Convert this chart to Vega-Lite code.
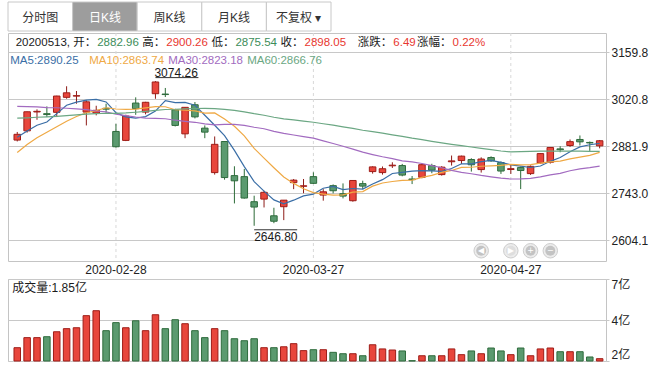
{
  "$schema": "https://vega.github.io/schema/vega-lite/v6.json",
  "padding": {"left": 0, "top": 1, "right": 0, "bottom": 0},
  "background": "white",
  "spacing": 0,
  "config": {
    "font": "Liberation Sans, Noto Sans CJK SC, sans-serif",
    "view": {"stroke": "#c4c4c4"},
    "axis": {"labelFont": "Liberation Sans, Noto Sans CJK SC, sans-serif", "labelFontSize": 12, "labelColor": "#222222", "title": null},
    "text": {"font": "Liberation Sans, Noto Sans CJK SC, sans-serif", "fontSize": 12}
  },
  "datasets": {
    "ohlc": [
      {"date":"2020-02-14","open":2900.0,"high":2924.0,"low":2896.0,"close":2917.01,"volume":2.56,"ma5":2908.43,"ma10":2863.26,"ma30":2999.79,"ma60":2964.65},
      {"date":"2020-02-17","open":2927.3,"high":2984.0,"low":2922.0,"close":2983.62,"volume":3.21,"ma5":2927.05,"ma10":2886.96,"ma30":2999.00,"ma60":2965.88},
      {"date":"2020-02-18","open":2983.1,"high":2990.8,"low":2960.0,"close":2984.97,"volume":3.21,"ma5":2943.71,"ma10":2907.13,"ma30":2998.33,"ma60":2967.44},
      {"date":"2020-02-19","open":2978.0,"high":2999.6,"low":2968.0,"close":2975.40,"volume":3.27,"ma5":2953.41,"ma10":2922.86,"ma30":2996.17,"ma60":2968.54},
      {"date":"2020-02-20","open":2982.0,"high":3031.0,"low":2968.0,"close":3030.15,"volume":3.59,"ma5":2978.23,"ma10":2939.22,"ma30":2995.51,"ma60":2970.15},
      {"date":"2020-02-21","open":3026.3,"high":3059.0,"low":3022.2,"close":3039.67,"volume":3.79,"ma5":3002.76,"ma10":2955.60,"ma30":2993.99,"ma60":2972.29},
      {"date":"2020-02-24","open":3030.0,"high":3045.0,"low":3007.4,"close":3031.23,"volume":3.85,"ma5":3012.28,"ma10":2969.67,"ma30":2992.24,"ma60":2974.42},
      {"date":"2020-02-25","open":2982.7,"high":3017.4,"low":2943.3,"close":3013.05,"volume":4.63,"ma5":3017.90,"ma10":2980.81,"ma30":2989.89,"ma60":2976.54},
      {"date":"2020-02-26","open":2979.8,"high":3001.4,"low":2973.0,"close":2987.93,"volume":4.95,"ma5":3020.41,"ma10":2986.91,"ma30":2986.00,"ma60":2977.91},
      {"date":"2020-02-27","open":2994.0,"high":3007.4,"low":2980.7,"close":2991.33,"volume":3.66,"ma5":3012.64,"ma10":2995.44,"ma30":2983.48,"ma60":2979.31},
      {"date":"2020-02-28","open":2925.5,"high":2948.0,"low":2878.0,"close":2880.30,"volume":4.18,"ma5":2980.77,"ma10":2991.77,"ma30":2976.33,"ma60":2978.93},
      {"date":"2020-03-02","open":2899.0,"high":2975.0,"low":2897.0,"close":2970.93,"volume":3.85,"ma5":2968.71,"ma10":2990.50,"ma30":2972.28,"ma60":2980.28},
      {"date":"2020-03-03","open":3009.4,"high":3026.3,"low":2974.7,"close":2992.90,"volume":4.30,"ma5":2964.68,"ma10":2991.29,"ma30":2968.19,"ma60":2982.30},
      {"date":"2020-03-04","open":2982.7,"high":3013.0,"low":2976.0,"close":3011.67,"volume":3.66,"ma5":2969.43,"ma10":2994.92,"ma30":2965.02,"ma60":2984.56},
      {"date":"2020-03-05","open":3037.0,"high":3074.26,"low":3022.0,"close":3071.68,"volume":4.69,"ma5":2985.50,"ma10":2999.07,"ma30":2964.41,"ma60":2987.68},
      {"date":"2020-03-06","open":3036.0,"high":3054.0,"low":3027.2,"close":3034.51,"volume":3.79,"ma5":3016.34,"ma10":2998.55,"ma30":2963.09,"ma60":2990.29},
      {"date":"2020-03-09","open":2989.6,"high":2992.5,"low":2940.3,"close":2943.29,"volume":4.37,"ma5":3010.81,"ma10":2989.76,"ma30":2958.68,"ma60":2991.02},
      {"date":"2020-03-10","open":2918.4,"high":2997.0,"low":2905.6,"close":2996.76,"volume":4.11,"ma5":3011.58,"ma10":2988.13,"ma30":2955.38,"ma60":2992.43},
      {"date":"2020-03-11","open":3004.4,"high":3012.4,"low":2964.0,"close":2968.52,"volume":3.66,"ma5":3002.95,"ma10":2986.19,"ma30":2952.59,"ma60":2993.33},
      {"date":"2020-03-12","open":2935.3,"high":2943.3,"low":2905.6,"close":2923.49,"volume":3.21,"ma5":2973.31,"ma10":2979.41,"ma30":2948.02,"ma60":2993.43},
      {"date":"2020-03-13","open":2803.9,"high":2910.7,"low":2798.0,"close":2887.43,"volume":3.79,"ma5":2943.90,"ma10":2980.12,"ma30":2945.05,"ma60":2992.82},
      {"date":"2020-03-16","open":2895.8,"high":2897.0,"low":2783.0,"close":2789.25,"volume":3.66,"ma5":2913.09,"ma10":2961.95,"ma30":2946.47,"ma60":2990.71},
      {"date":"2020-03-17","open":2795.0,"high":2822.6,"low":2712.8,"close":2779.64,"volume":3.14,"ma5":2869.67,"ma10":2940.62,"ma30":2946.35,"ma60":2987.58},
      {"date":"2020-03-18","open":2792.0,"high":2814.7,"low":2727.0,"close":2728.76,"volume":3.01,"ma5":2821.71,"ma10":2912.33,"ma30":2943.37,"ma60":2983.31},
      {"date":"2020-03-19","open":2717.9,"high":2735.6,"low":2646.80,"close":2702.13,"volume":3.14,"ma5":2777.44,"ma10":2875.38,"ma30":2937.89,"ma60":2977.98},
      {"date":"2020-03-20","open":2725.6,"high":2750.5,"low":2700.9,"close":2745.62,"volume":2.56,"ma5":2749.08,"ma10":2846.49,"ma30":2933.55,"ma60":2973.45},
      {"date":"2020-03-23","open":2676.3,"high":2700.0,"low":2654.4,"close":2660.17,"volume":2.56,"ma5":2723.26,"ma10":2818.18,"ma30":2925.87,"ma60":2967.50},
      {"date":"2020-03-24","open":2703.1,"high":2722.8,"low":2663.5,"close":2722.44,"volume":2.62,"ma5":2711.82,"ma10":2790.74,"ma30":2919.89,"ma60":2962.80},
      {"date":"2020-03-25","open":2774.2,"high":2785.0,"low":2755.0,"close":2781.59,"volume":2.82,"ma5":2722.39,"ma10":2772.05,"ma30":2915.05,"ma60":2959.78},
      {"date":"2020-03-26","open":2763.5,"high":2785.0,"low":2743.0,"close":2764.91,"volume":2.37,"ma5":2734.95,"ma10":2756.19,"ma30":2910.35,"ma60":2956.15},
      {"date":"2020-03-27","open":2792.0,"high":2804.8,"low":2770.5,"close":2772.20,"volume":2.43,"ma5":2740.26,"ma10":2744.67,"ma30":2905.52,"ma60":2952.65},
      {"date":"2020-03-30","open":2737.5,"high":2755.0,"low":2721.0,"close":2747.21,"volume":2.43,"ma5":2757.67,"ma10":2740.47,"ma30":2897.64,"ma60":2948.32},
      {"date":"2020-03-31","open":2765.3,"high":2769.0,"low":2742.5,"close":2750.30,"volume":2.26,"ma5":2763.24,"ma10":2737.53,"ma30":2889.82,"ma60":2944.07},
      {"date":"2020-04-01","open":2741.6,"high":2772.0,"low":2727.7,"close":2734.52,"volume":2.17,"ma5":2753.83,"ma10":2738.11,"ma30":2881.79,"ma60":2938.98},
      {"date":"2020-04-02","open":2720.8,"high":2781.0,"low":2718.0,"close":2780.64,"volume":2.17,"ma5":2756.97,"ma10":2745.96,"ma30":2873.47,"ma60":2934.49},
      {"date":"2020-04-03","open":2771.3,"high":2780.0,"low":2755.0,"close":2763.99,"volume":2.04,"ma5":2755.33,"ma10":2747.80,"ma30":2864.28,"ma60":2929.13},
      {"date":"2020-04-07","open":2806.9,"high":2822.5,"low":2800.9,"close":2820.76,"volume":2.75,"ma5":2770.04,"ma10":2763.86,"ma30":2857.26,"ma60":2924.75},
      {"date":"2020-04-08","open":2803.9,"high":2822.0,"low":2798.0,"close":2815.37,"volume":2.48,"ma5":2783.06,"ma10":2773.15,"ma30":2850.67,"ma60":2920.28},
      {"date":"2020-04-09","open":2824.0,"high":2834.4,"low":2817.6,"close":2825.90,"volume":2.41,"ma5":2801.33,"ma10":2777.58,"ma30":2845.27,"ma60":2915.64},
      {"date":"2020-04-10","open":2824.7,"high":2829.6,"low":2793.0,"close":2796.63,"volume":2.35,"ma5":2804.53,"ma10":2780.75,"ma30":2838.78,"ma60":2911.13},
      {"date":"2020-04-13","open":2785.0,"high":2793.8,"low":2770.0,"close":2783.05,"volume":1.72,"ma5":2808.34,"ma10":2781.84,"ma30":2835.54,"ma60":2905.93},
      {"date":"2020-04-14","open":2790.0,"high":2830.0,"low":2787.0,"close":2827.28,"volume":2.04,"ma5":2809.65,"ma10":2789.84,"ma30":2830.75,"ma60":2901.52},
      {"date":"2020-04-15","open":2824.7,"high":2830.0,"low":2802.0,"close":2811.17,"volume":2.04,"ma5":2808.81,"ma10":2795.93,"ma30":2824.70,"ma60":2896.44},
      {"date":"2020-04-16","open":2798.0,"high":2823.0,"low":2795.0,"close":2819.94,"volume":2.04,"ma5":2807.61,"ma10":2804.47,"ma30":2818.31,"ma60":2891.66},
      {"date":"2020-04-17","open":2836.0,"high":2854.3,"low":2824.7,"close":2838.49,"volume":2.48,"ma5":2815.99,"ma10":2810.26,"ma30":2810.53,"ma60":2887.47},
      {"date":"2020-04-20","open":2839.5,"high":2854.0,"low":2829.4,"close":2852.55,"volume":2.11,"ma5":2829.89,"ma10":2819.11,"ma30":2804.47,"ma60":2883.78},
      {"date":"2020-04-21","open":2842.5,"high":2846.3,"low":2806.9,"close":2827.01,"volume":2.35,"ma5":2829.83,"ma10":2819.74,"ma30":2800.59,"ma60":2879.64},
      {"date":"2020-04-22","open":2812.8,"high":2849.0,"low":2804.0,"close":2843.98,"volume":2.17,"ma5":2836.39,"ma10":2822.60,"ma30":2795.50,"ma60":2875.44},
      {"date":"2020-04-23","open":2848.4,"high":2852.0,"low":2836.0,"close":2838.50,"volume":2.54,"ma5":2840.11,"ma10":2823.86,"ma30":2791.16,"ma60":2871.88},
      {"date":"2020-04-24","open":2833.5,"high":2837.0,"low":2800.0,"close":2808.53,"volume":2.35,"ma5":2834.11,"ma10":2825.05,"ma30":2787.33,"ma60":2867.67},
      {"date":"2020-04-27","open":2813.0,"high":2826.5,"low":2800.0,"close":2815.49,"volume":2.11,"ma5":2826.70,"ma10":2828.29,"ma30":2784.93,"ma60":2864.99},
      {"date":"2020-04-28","open":2818.7,"high":2821.6,"low":2755.2,"close":2810.02,"volume":2.54,"ma5":2823.30,"ma10":2826.57,"ma30":2785.63,"ma60":2866.05},
      {"date":"2020-04-29","open":2800.9,"high":2825.0,"low":2797.0,"close":2822.44,"volume":2.04,"ma5":2819.00,"ma10":2827.70,"ma30":2787.05,"ma60":2866.70},
      {"date":"2020-04-30","open":2832.4,"high":2861.0,"low":2830.0,"close":2860.08,"volume":2.48,"ma5":2823.31,"ma10":2831.71,"ma30":2791.43,"ma60":2867.40},
      {"date":"2020-05-06","open":2834.4,"high":2879.0,"low":2830.6,"close":2878.14,"volume":2.54,"ma5":2837.23,"ma10":2835.67,"ma30":2797.30,"ma60":2867.59},
      {"date":"2020-05-07","open":2874.0,"high":2881.9,"low":2864.0,"close":2871.52,"volume":2.30,"ma5":2848.44,"ma10":2837.57,"ma30":2801.49,"ma60":2867.52},
      {"date":"2020-05-08","open":2884.0,"high":2901.8,"low":2879.9,"close":2895.34,"volume":2.30,"ma5":2865.50,"ma10":2844.40,"ma30":2809.33,"ma60":2867.60},
      {"date":"2020-05-11","open":2901.8,"high":2913.6,"low":2884.0,"close":2894.80,"volume":2.30,"ma5":2879.98,"ma10":2849.49,"ma30":2815.08,"ma60":2867.49},
      {"date":"2020-05-12","open":2893.0,"high":2895.8,"low":2868.0,"close":2891.56,"volume":1.96,"ma5":2886.27,"ma10":2854.79,"ma30":2818.74,"ma60":2866.90},
      {"date":"2020-05-13","open":2882.96,"high":2900.26,"low":2875.54,"close":2898.05,"volume":1.85,"ma5":2890.25,"ma10":2863.74,"ma30":2823.18,"ma60":2866.76}
    ],
    "tabs": [
      {"tab": "分时图", "selected": false},
      {"tab": "日K线", "selected": true},
      {"tab": "周K线", "selected": false},
      {"tab": "月K线", "selected": false},
      {"tab": "不复权 ▾", "selected": false}
    ],
    "xticks": [
      {"date": "2020-02-28"},
      {"date": "2020-03-27"},
      {"date": "2020-04-27"}
    ],
    "info": [
      {"date": "2020-02-26", "label": "20200513, 开：", "value": "2882.96", "dir": "down"},
      {"date": "2020-03-06", "label": "高：", "value": "2900.26", "dir": "up"},
      {"date": "2020-03-17", "label": "低：", "value": "2875.54", "dir": "down"},
      {"date": "2020-03-26", "label": "收：", "value": "2898.05", "dir": "up"},
      {"date": "2020-04-09", "label": "涨跌：", "value": "6.49", "dir": "up"},
      {"date": "2020-04-17", "label": "涨幅：", "value": "0.22%", "dir": "up"}
    ],
    "malegend": [
      {"date": "2020-02-14", "text": "MA5:2890.25", "ma": "ma5"},
      {"date": "2020-02-26", "text": "MA10:2863.74", "ma": "ma10"},
      {"date": "2020-03-09", "text": "MA30:2823.18", "ma": "ma30"},
      {"date": "2020-03-19", "text": "MA60:2866.76", "ma": "ma60"}
    ],
    "extremes": [
      {"date": "2020-03-05", "price": 3074.26, "kind": "max"},
      {"date": "2020-03-19", "price": 2646.80, "kind": "min"}
    ],
    "buttons": [
      {"date": "2020-04-22", "glyph": "◀", "enabled": true},
      {"date": "2020-04-27", "glyph": "▶", "enabled": false},
      {"date": "2020-04-29", "glyph": "+", "enabled": true},
      {"date": "2020-05-06", "glyph": "−", "enabled": true}
    ],
    "vollabel": [
      {"date": "2020-02-14", "label": "成交量:1.85亿"}
    ]
  },
  "vconcat": [
    {
      "width": 323,
      "height": 29,
      "data": {"name": "tabs"},
      "view": {"stroke": null},
      "encoding": {
        "x": {"field": "tab", "type": "nominal", "sort": null, "scale": {"paddingInner": 0, "paddingOuter": 0}, "axis": null}
      },
      "layer": [
        {
          "mark": {"type": "bar", "stroke": "#c8c8c8", "strokeWidth": 1},
          "encoding": {
            "fill": {"condition": {"test": "datum.selected", "value": "#9d9d9d"}, "value": "#ffffff"}
          }
        },
        {
          "mark": {"type": "text", "fontSize": 12, "dy": 1},
          "encoding": {
            "text": {"field": "tab"},
            "color": {"condition": {"test": "datum.selected", "value": "#ffffff"}, "value": "#333333"}
          }
        }
      ]
    },
    {
      "width": 598,
      "height": 228,
      "layer": [
        {
          "data": {"name": "xticks"},
          "layer": [
            {
              "mark": {"type": "rule", "strokeDash": [3, 3], "color": "#d8d8d8", "strokeWidth": 1},
              "encoding": {
                "x": {"field": "date", "type": "ordinal", "axis": null},
                "y": {"datum": 3216.4, "type": "quantitative", "axis": null},
                "y2": {"datum": 2542.7}
              }
            },
            {
              "mark": {"type": "text", "baseline": "top", "dy": 4, "fontSize": 12, "color": "#222222"},
              "encoding": {
                "x": {"field": "date", "type": "ordinal", "axis": null},
                "y": {"datum": 2542.7, "type": "quantitative", "axis": null},
                "text": {"field": "date"}
              }
            }
          ]
        },
        {
          "data": {"name": "ohlc"},
          "mark": {"type": "rule", "strokeWidth": 1},
          "encoding": {
            "x": {
              "field": "date", "type": "ordinal",
              "scale": {"type": "band", "paddingInner": 0.34, "paddingOuter": 0.46, "align": 0.66},
              "axis": null
            },
            "y": {
              "field": "low", "type": "quantitative",
              "scale": {"domain": [2542.7, 3216.4], "zero": false, "nice": false},
              "axis": {"orient": "right", "values": [2604.1, 2743.0, 2881.9, 3020.8, 3159.8], "format": ".1f", "grid": true, "gridColor": "#c8c8c8", "domain": false, "tickSize": 3, "tickColor": "#c8c8c8", "labelPadding": 2, "title": null}
            },
            "y2": {"field": "high"},
            "color": {"condition": {"test": "datum.close >= datum.open", "value": "#8e1c18"}, "value": "#2c6b37"}
          }
        },
        {
          "data": {"name": "ohlc"},
          "mark": {"type": "bar", "strokeWidth": 1},
          "encoding": {
            "x": {"field": "date", "type": "ordinal", "axis": null},
            "y": {"field": "open", "type": "quantitative", "axis": {"orient": "left", "labels": false, "ticks": true, "tickSize": 7, "tickOpacity": 0, "domain": false, "grid": false, "values": [2881.9], "title": null}},
            "y2": {"field": "close"},
            "fill": {"condition": {"test": "datum.close >= datum.open", "value": "#e8463c"}, "value": "#5b9a6f"},
            "stroke": {"condition": {"test": "datum.close >= datum.open", "value": "#9e1d18"}, "value": "#2e6b3c"}
          }
        },
        {
          "data": {"name": "ohlc"},
          "transform": [{"fold": ["ma5", "ma10", "ma30", "ma60"], "as": ["ma", "value"]}],
          "mark": {"type": "line", "strokeWidth": 1.2},
          "encoding": {
            "x": {"field": "date", "type": "ordinal", "axis": null},
            "y": {"field": "value", "type": "quantitative", "axis": null},
            "color": {"field": "ma", "type": "nominal", "scale": {"domain": ["ma5", "ma10", "ma30", "ma60"], "range": ["#3a6ea6", "#efa945", "#a26bc0", "#6ba783"]}, "legend": null}
          }
        },
        {
          "data": {"name": "malegend"},
          "mark": {"type": "text", "align": "left", "baseline": "middle", "dx": -7, "fontSize": 11.5},
          "encoding": {
            "x": {"field": "date", "type": "ordinal", "axis": null},
            "y": {"datum": 3132.5, "type": "quantitative", "axis": null},
            "text": {"field": "text"},
            "color": {"field": "ma", "type": "nominal", "legend": null}
          }
        },
        {
          "data": {"name": "info"},
          "mark": {"type": "text", "align": "right", "baseline": "middle", "dx": 0, "fontSize": 11.5, "color": "#1a1a1a"},
          "encoding": {
            "x": {"field": "date", "type": "ordinal", "axis": null},
            "y": {"datum": 3186.5, "type": "quantitative", "axis": null},
            "text": {"field": "label"}
          }
        },
        {
          "data": {"name": "info"},
          "mark": {"type": "text", "align": "left", "baseline": "middle", "dx": 1, "fontSize": 11.5},
          "encoding": {
            "x": {"field": "date", "type": "ordinal", "axis": null},
            "y": {"datum": 3186.5, "type": "quantitative", "axis": null},
            "text": {"field": "value"},
            "fill": {"condition": {"test": "datum.dir === 'up'", "value": "#e8372f"}, "value": "#3c8d59"}
          }
        },
        {
          "data": {"name": "extremes"},
          "transform": [{"filter": "datum.kind === 'max'"}],
          "layer": [
            {
              "mark": {"type": "text", "align": "left", "baseline": "alphabetic", "dy": -4.5, "dx": -1, "fontSize": 12, "color": "#1a1a1a"},
              "encoding": {
                "x": {"field": "date", "type": "ordinal", "axis": null},
                "y": {"field": "price", "type": "quantitative", "axis": null},
                "text": {"field": "price", "type": "quantitative", "format": ".2f"}
              }
            },
            {
              "mark": {"type": "rule", "yOffset": -3.5, "x2Offset": 43, "color": "#333333", "strokeWidth": 1},
              "encoding": {
                "x": {"field": "date", "type": "ordinal", "axis": null},
                "x2": {"field": "date"},
                "y": {"field": "price", "type": "quantitative", "axis": null}
              }
            }
          ]
        },
        {
          "data": {"name": "extremes"},
          "transform": [{"filter": "datum.kind === 'min'"}],
          "layer": [
            {
              "mark": {"type": "text", "align": "left", "baseline": "top", "dy": 6, "dx": 0, "fontSize": 12, "color": "#1a1a1a"},
              "encoding": {
                "x": {"field": "date", "type": "ordinal", "axis": null},
                "y": {"field": "price", "type": "quantitative", "axis": null},
                "text": {"field": "price", "type": "quantitative", "format": ".2f"}
              }
            },
            {
              "mark": {"type": "rule", "yOffset": 4, "x2Offset": 43, "color": "#333333", "strokeWidth": 1},
              "encoding": {
                "x": {"field": "date", "type": "ordinal", "axis": null},
                "x2": {"field": "date"},
                "y": {"field": "price", "type": "quantitative", "axis": null}
              }
            }
          ]
        },
        {
          "data": {"name": "buttons"},
          "layer": [
            {
              "mark": {"type": "point", "shape": "circle", "filled": true, "size": 210, "fill": "#ececec", "stroke": "#cdcdcd", "strokeWidth": 1, "opacity": 1},
              "encoding": {
                "x": {"field": "date", "type": "ordinal", "axis": null},
                "y": {"datum": 2573, "type": "quantitative", "axis": null}
              }
            },
            {
              "mark": {"type": "point", "shape": "circle", "filled": true, "size": 100, "opacity": 1},
              "encoding": {
                "x": {"field": "date", "type": "ordinal", "axis": null},
                "y": {"datum": 2573, "type": "quantitative", "axis": null},
                "fill": {"condition": {"test": "datum.enabled", "value": "#c3c3c3"}, "value": "#dedede"}
              }
            },
            {
              "mark": {"type": "text", "fontSize": 8, "baseline": "middle", "align": "center", "color": "#ffffff", "font": "DejaVu Sans"},
              "encoding": {
                "x": {"field": "date", "type": "ordinal", "axis": null},
                "y": {"datum": 2573, "type": "quantitative", "axis": null},
                "text": {"field": "glyph"}
              }
            }
          ]
        }
      ]
    },
    {
      "width": 598,
      "height": 82,
      "layer": [
        {
          "data": {"name": "ohlc"},
          "mark": {"type": "bar", "strokeWidth": 1},
          "encoding": {
            "x": {
              "field": "date", "type": "ordinal",
              "scale": {"type": "band", "paddingInner": 0.34, "paddingOuter": 0.46, "align": 0.66},
              "axis": {"orient": "top", "labels": false, "ticks": true, "tickSize": 3, "tickOpacity": 0, "domain": false, "grid": false, "values": ["2020-02-14"], "title": null}
            },
            "y": {
              "field": "volume", "type": "quantitative",
              "scale": {"domain": [1.7, 7.0], "zero": false, "nice": false},
              "axis": {"orient": "right", "values": [1.7, 4.35, 7.0], "labelExpr": "round(datum.value) + '亿'", "labelFlush": true, "grid": true, "gridColor": "#c8c8c8", "domain": false, "tickSize": 3, "tickColor": "#c8c8c8", "labelPadding": 2, "title": null}
            },
            "y2": {"datum": 1.7},
            "fill": {"condition": {"test": "datum.close >= datum.open", "value": "#e8463c"}, "value": "#5b9a6f"},
            "stroke": {"condition": {"test": "datum.close >= datum.open", "value": "#9e1d18"}, "value": "#2e6b3c"}
          }
        },
        {
          "data": {"name": "vollabel"},
          "mark": {"type": "text", "align": "left", "baseline": "top", "dx": -5, "dy": 4, "fontSize": 12, "color": "#1a1a1a"},
          "encoding": {
            "x": {"field": "date", "type": "ordinal", "axis": null},
            "y": {"datum": 7.0, "type": "quantitative", "axis": {"orient": "left", "labels": false, "ticks": true, "tickSize": 7, "tickOpacity": 0, "domain": false, "grid": false, "values": [4.35], "title": null}},
            "text": {"field": "label"}
          }
        }
      ]
    }
  ]
}
